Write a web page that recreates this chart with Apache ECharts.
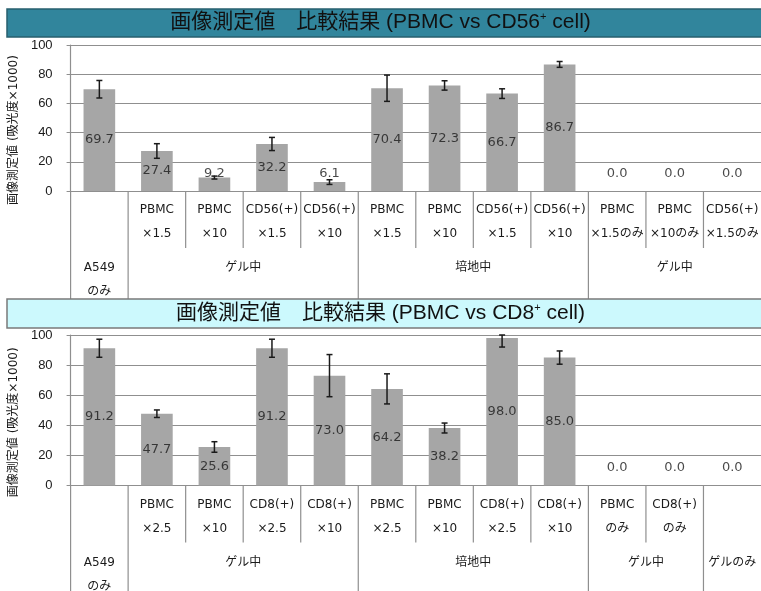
<!DOCTYPE html>
<html>
<head>
<meta charset="utf-8">
<script src="https://cdn.jsdelivr.net/npm/echarts@6/dist/echarts.min.js"></script>
<style>
  html, body { margin: 0; padding: 0; background: #fff; }
  #container { width: 761px; height: 591px; }
</style>
</head>
<body>
<div id="container"></div>
<script>
// --- top panel: PBMC vs CD56+ ---
var cats1 = ['', 'PBMC\n×1.5', 'PBMC\n×10', 'CD56(+)\n×1.5', 'CD56(+)\n×10',
             'PBMC\n×1.5', 'PBMC\n×10', 'CD56(+)\n×1.5', 'CD56(+)\n×10',
             'PBMC\n×1.5のみ', 'PBMC\n×10のみ', 'CD56(+)\n×1.5のみ'];
var vals1 = [69.7, 27.4, 9.2, 32.2, 6.1, 70.4, 72.3, 66.7, 86.7, 0, 0, 0];
var errs1 = [6, 5, 1, 4.5, 1.6, 9, 3.2, 3.3, 2, 0, 0, 0];
var groups1 = ['A549\nのみ', 'ゲル中', '培地中', 'ゲル中'];
var groupSizes1 = [1, 4, 4, 3];

// --- bottom panel: PBMC vs CD8+ ---
var cats2 = ['', 'PBMC\n×2.5', 'PBMC\n×10', 'CD8(+)\n×2.5', 'CD8(+)\n×10',
             'PBMC\n×2.5', 'PBMC\n×10', 'CD8(+)\n×2.5', 'CD8(+)\n×10',
             'PBMC\nのみ', 'CD8(+)\nのみ', ''];
var vals2 = [91.2, 47.7, 25.6, 91.2, 73.0, 64.2, 38.2, 98.0, 85.0, 0, 0, 0];
var errs2 = [6, 2.5, 3.5, 6, 14, 10, 3.3, 6, 4.4, 0, 0, 0];
var groups2 = ['A549\nのみ', 'ゲル中', '培地中', 'ゲル中', 'ゲルのみ'];
var groupSizes2 = [1, 4, 4, 2, 1];

var yTicks = [0, 20, 40, 60, 80, 100];
var yName = '画像測定値 (吸光度×1000)';

var FONT = '"DejaVu Sans", "Noto Sans CJK JP", sans-serif';
var TFONT = '"Liberation Sans", "Noto Sans CJK JP", sans-serif';
var LINE = '#8f8f8f';

var dom = document.getElementById('container');
var myChart = echarts.init(dom, null, { renderer: 'canvas' });

function errRender(params, api) {
    var v = api.value(1), e = api.value(2);
    if (!e) return;
    var lo = api.coord([api.value(0), v - e]);
    var hi = api.coord([api.value(0), Math.min(v + e, yTicks[yTicks.length - 1])]);
    var s = { stroke: '#1a1a1a', lineWidth: 1.5 };
    return {
        type: 'group',
        children: [
            { type: 'line', shape: { x1: lo[0], y1: lo[1], x2: hi[0], y2: hi[1] }, style: s },
            { type: 'line', shape: { x1: lo[0] - 3, y1: lo[1], x2: lo[0] + 3, y2: lo[1] }, style: s },
            { type: 'line', shape: { x1: hi[0] - 3, y1: hi[1], x2: hi[0] + 3, y2: hi[1] }, style: s }
        ]
    };
}

function tableRender(cats, groups, sizes) {
    var starts = {}, k = 0;
    groups.forEach(function (g, j) { starts[k] = j; k += sizes[j]; });
    return function (params, api) {
        var i = api.value(0);
        var c = api.coord([i, 0]);
        var w = api.size([1, 0])[0];
        var x0 = c[0] - w / 2, y0 = c[1];
        var g = starts[i];
        var children = [{
            type: 'line',
            shape: { x1: x0, y1: y0, x2: x0, y2: y0 + (g !== undefined ? 112 : 57) },
            style: { stroke: LINE, lineWidth: 1.2 }
        }];
        cats[i].split('\n').forEach(function (t, r) {
            children.push({ type: 'text', style: {
                text: t, x: c[0], y: y0 + 19 + r * 24, align: 'center', verticalAlign: 'middle',
                font: '12px ' + FONT, fill: '#1a1a1a' } });
        });
        if (g !== undefined) {
            var gx = x0 + w * sizes[g] / 2;
            groups[g].split('\n').forEach(function (t, r) {
                children.push({ type: 'text', style: {
                    text: t, x: gx, y: y0 + 77 + r * 24, align: 'center', verticalAlign: 'middle',
                    font: '12px ' + FONT, fill: '#1a1a1a' } });
            });
        }
        return { type: 'group', children: children };
    };
}

function panelSeries(idx, cats, vals, errs, groups, sizes) {
    return [
        {
            type: 'bar', xAxisIndex: idx, yAxisIndex: idx,
            data: vals, barWidth: '55%',
            itemStyle: { color: '#a6a6a6' }
        },
        {
            type: 'custom', xAxisIndex: idx, yAxisIndex: idx, z: 5,
            renderItem: errRender,
            encode: { x: 0, y: 1 },
            data: vals.map(function (v, i) { return [i, v, errs[i]]; })
        },
        {
            type: 'scatter', xAxisIndex: idx, yAxisIndex: idx, z: 6,
            symbolSize: 1, itemStyle: { color: 'rgba(0,0,0,0)' },
            data: vals.map(function (v, i) { return [i, Math.max(v / 2, 12), v]; }),
            label: {
                show: true, position: 'inside',
                formatter: function (p) { return p.value[2].toFixed(1); },
                fontFamily: FONT, fontSize: 13, color: '#1a1a1a'
            }
        },
        {
            type: 'custom', xAxisIndex: idx, yAxisIndex: idx, z: 3,
            renderItem: tableRender(cats, groups, sizes),
            encode: { x: 0, y: 1 },
            data: cats.map(function (c, i) { return [i, 0]; })
        }
    ];
}

function titleText(cell) {
    return '{t|画像測定値　比較結果 (PBMC vs ' + cell + '}{s|+}{t| cell)}';
}

var titleRich = {
    t: { fontSize: 21, fontFamily: TFONT, fontWeight: 'normal', color: '#111' },
    s: { fontSize: 11, fontFamily: TFONT, fontWeight: 'normal', color: '#111',
         verticalAlign: 'top', padding: [0, 0, 12, 0] }
};

function yAxisOpt(idx) {
    return {
        type: 'value', gridIndex: idx, min: 0, max: 100, interval: 20,
        name: yName, nameLocation: 'middle', nameGap: 47,
        nameTextStyle: { fontSize: 12, fontFamily: FONT, color: '#1a1a1a', padding: [0, 24, 0, 0] },
        axisLine: { show: true, lineStyle: { color: LINE, width: 1.2 } },
        axisTick: { show: true, length: 4, lineStyle: { color: LINE } },
        axisLabel: { fontSize: 13, fontFamily: TFONT, color: '#1a1a1a', margin: 18 },
        splitLine: { lineStyle: { color: LINE, width: 1.2 } }
    };
}

function xAxisOpt(idx, cats) {
    return {
        type: 'category', gridIndex: idx, data: cats,
        axisLine: { show: true, lineStyle: { color: LINE, width: 1.2 } },
        axisTick: { show: false }, axisLabel: { show: false }
    };
}

option = {
    backgroundColor: '#fff',
    animation: false,
    title: [
        { text: titleText('CD56'), left: 'center', top: 11, padding: 0, z: 60,
          textStyle: { fontWeight: 'normal', rich: titleRich } },
        { text: titleText('CD8'), left: 'center', top: 302, padding: 0, z: 60,
          textStyle: { fontWeight: 'normal', rich: titleRich } }
    ],
    graphic: [
        { type: 'rect', z: 50, shape: { x: 7, y: 9, width: 760, height: 28 },
          style: { fill: '#31859c', stroke: '#275f6d', lineWidth: 1.5 } },
        { type: 'rect', z: 50, shape: { x: 7, y: 299, width: 760, height: 29 },
          style: { fill: '#ccf9fd', stroke: '#7a7a7a', lineWidth: 1.5 } }
    ],
    grid: [
        { left: 67, top: 45, width: 694, height: 146 },
        { left: 68, top: 335, width: 694, height: 150.5 }
    ],
    xAxis: [xAxisOpt(0, cats1), xAxisOpt(1, cats2)],
    yAxis: [yAxisOpt(0), yAxisOpt(1)],
    series: panelSeries(0, cats1, vals1, errs1, groups1, groupSizes1)
        .concat(panelSeries(1, cats2, vals2, errs2, groups2, groupSizes2))
};

if (option && typeof option === 'object') {
    myChart.setOption(option, true);
}
</script>
</body>
</html>
